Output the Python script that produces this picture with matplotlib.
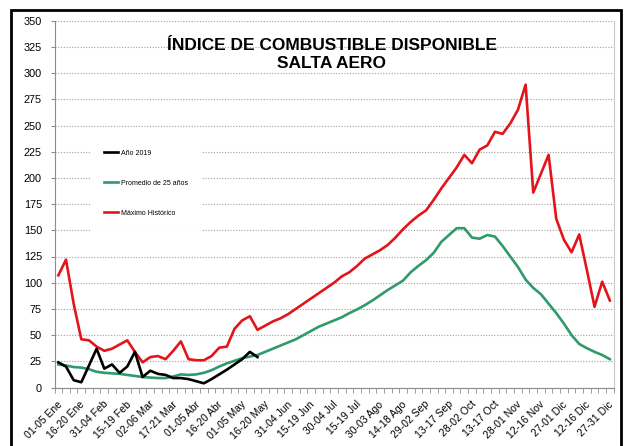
import numpy as np
import matplotlib
matplotlib.use('Agg')
import matplotlib.pyplot as plt
from matplotlib.patches import Rectangle
from matplotlib.transforms import ScaledTranslation

################################
## DATA:                      ##

# one value per pentad (73 per year)
anio_2019 = [24, 20, 7, 5, 21, 37, 18, 22, 14, 20, 34, 10, 16, 13, 12, 9, 9, 8,
             6, 4, 8, 12.5, 17, 22, 27, 34, 29]

promedio_25 = [22, 21, 19.5, 19, 17.5, 15, 14, 13.5, 13, 12, 11, 10, 9.5, 9, 9,
               10.5, 12.5, 12, 12.5, 14, 16.5, 20, 23, 25.5, 28, 29.5, 31, 34,
               37, 40, 43, 46, 50, 54, 58, 61, 64, 67, 71, 74.5, 78.5, 83, 88,
               93, 97.5, 102, 110, 116, 121.5, 128.5, 139, 145.5, 152, 152,
               143, 142, 145.5, 144, 135, 125, 115, 103, 95, 89, 80, 71, 61,
               50, 41.5, 37.5, 34, 31, 27]

maximo_hist = [107, 122, 80, 46, 45, 39, 35, 37, 41, 45, 34, 24, 29, 30, 27, 35,
               44, 27, 26, 26, 30, 38, 39, 56, 64, 68, 55, 59, 63, 66, 70, 75,
               80, 85, 90, 95, 100, 106, 110, 116, 123, 127, 131, 136, 143,
               151, 158, 164, 169, 179, 190, 200, 210, 222, 214, 227, 231, 244,
               242, 252, 265, 289, 186, 204, 222, 161, 141, 129, 146, 112, 77,
               101, 83]

# labels shown on every third pentad
tick_labels = ['01-05 Ene', '16-20 Ene', '31-04 Feb', '15-19 Feb', '02-06 Mar',
               '17-21 Mar', '01-05 Abr', '16-20 Abr', '01-05 May', '16-20 May',
               '31-04 Jun', '15-19 Jun', '30-04 Jul', '15-19 Jul', '30-03 Ago',
               '14-18 Ago', '29-02 Sep', '13-17 Sep', '28-02 Oct', '13-17 Oct',
               '28-01 Nov', '12-16 Nov', '27-01 Dic', '12-16 Dic', '27-31 Dic']

series_names = ['Año 2019', 'Promedio de 25 años', 'Máximo Histórico']

################################
## SETUP:                     ##

plt.rcParams['font.family'] = ['Liberation Sans', 'DejaVu Sans']

W, H = 627, 446
fig = plt.figure(figsize=(W / 100, H / 100), dpi=100)
ax = fig.add_axes([54.5 / W, 1 - 387.5 / H, 559.2 / W, 366.8 / H])

GRAY = '#8c8c8c'
n = len(maximo_hist)

################################
## LINES:                     ##

ax.plot(np.arange(len(anio_2019)), anio_2019, color='black', lw=1.9,
        label=series_names[0], zorder=4)
ax.plot(np.arange(len(promedio_25)), promedio_25, color='#2f9a6b', lw=1.9,
        label=series_names[1], zorder=3)
ax.plot(np.arange(n), maximo_hist, color='#e3151b', lw=1.9,
        label=series_names[2], zorder=3)

################################
## AXES:                      ##

ax.set_xlim(-0.5, n - 0.5)
ax.set_ylim(0, 350)
ax.set_yticks(np.arange(0, 351, 25))
ax.yaxis.grid(True, color='#a0a0a0', lw=0.8, linestyle=(0, (1, 1.5)))
ax.set_axisbelow(True)
ax.tick_params(axis='y', length=3, color=GRAY, labelsize=7.8, pad=6)

ax.set_xticks(np.arange(0, n, 3))
ax.set_xticklabels(tick_labels, rotation=45, ha='right', va='center',
                   rotation_mode='anchor', fontsize=7.5)
ax.set_xticks(np.arange(-0.5, n, 1), minor=True)
ax.tick_params(axis='x', which='major', length=0, pad=11)
ax.tick_params(axis='x', which='minor', length=3.5, color=GRAY)
shift = ScaledTranslation(2 / 100, 0, fig.dpi_scale_trans)
for lab in ax.get_xticklabels():
    lab.set_transform(lab.get_transform() + shift)

for side in ['left', 'bottom']:
    ax.spines[side].set_color(GRAY)
ax.spines['right'].set_color('#c8c8c8')
ax.spines['top'].set_visible(False)

################################
## TITLE + LEGEND:            ##

fig.text(332 / W, 1 - 45 / H, 'ÍNDICE DE COMBUSTIBLE DISPONIBLE',
         ha='center', va='center', fontsize=12.5, fontweight='bold')
fig.text(332 / W, 1 - 64 / H, 'SALTA AERO',
         ha='center', va='center', fontsize=12.5, fontweight='bold')

leg = ax.legend(loc='upper left', bbox_to_anchor=(90 / W, 1 - 136 / H),
                bbox_transform=fig.transFigure, fontsize=5, frameon=True,
                facecolor='white', edgecolor='none', framealpha=1,
                fancybox=False, borderpad=2.0, borderaxespad=0,
                labelspacing=3.3, handlelength=2.0, handletextpad=0.4)

# outer black frame of the picture
fig.add_artist(Rectangle((11 / W, -0.05), 610 / W, 1 - 9.5 / H + 0.05,
                         transform=fig.transFigure, fill=False,
                         edgecolor='black', lw=2))

fig.savefig('out.png', dpi=100)
